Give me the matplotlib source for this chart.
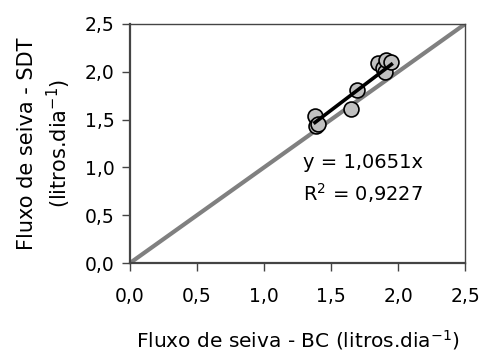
import matplotlib
matplotlib.use("Agg")
import matplotlib.pyplot as plt

# sap flow, BC method (x) vs SDT method (y), litros/dia
bc = [1.38, 1.39, 1.40, 1.65, 1.69, 1.85, 1.89, 1.90, 1.91, 1.95]
sdt = [1.54, 1.43, 1.45, 1.61, 1.81, 2.09, 2.04, 2.00, 2.12, 2.10]
slope = 1.0651
r2 = 0.9227
ticks = [0.0, 0.5, 1.0, 1.5, 2.0, 2.5]
tick_labels = ["0,0", "0,5", "1,0", "1,5", "2,0", "2,5"]

plt.rcParams["font.family"] = ["DejaVu Sans"]
plt.rcParams["mathtext.fontset"] = "dejavusans"

fig = plt.figure(figsize=(4.85, 3.51), dpi=100)
ax = fig.add_axes([0.268, 0.2507, 0.691, 0.681])

# 1:1 line
ax.plot([0, 2.5], [0, 2.5], color="#808080", lw=3, zorder=1)

ax.scatter(bc, sdt, s=115, facecolor="#c0c0c0", edgecolor="black",
           linewidth=1.2, zorder=3)

# regression through origin
x0, x1 = min(bc), max(bc)
ax.plot([x0, x1], [slope * x0, slope * x1], color="black", lw=2.6, zorder=4)

ax.text(1.29, 1.05, "y = 1,0651x", fontsize=14, ha="left", va="center")
ax.text(1.29, 0.73, f"R$^2$ = {r2:.4f}".replace(".", ","), fontsize=14,
        ha="left", va="center")

ax.set_xlim(0, 2.5)
ax.set_ylim(0, 2.5)
ax.set_xticks(ticks)
ax.set_xticklabels(tick_labels)
ax.set_yticks(ticks)
ax.set_yticklabels(tick_labels)
ax.tick_params(direction="out", length=6, width=1, labelsize=13.5,
               color="#444444")
ax.tick_params(axis="x", pad=11)
ax.tick_params(axis="y", pad=5)
for sp in ax.spines.values():
    sp.set_linewidth(1)
    sp.set_color("#444444")
ax.spines["left"].set_linewidth(1.6)
ax.spines["bottom"].set_linewidth(1.6)

ax.set_xlabel("Fluxo de seiva - BC (litros.dia$^{-1}$)", fontsize=14.5)
ax.xaxis.label.set_va("center")
ax.xaxis.set_label_coords(0.5, -0.322)

ax.set_ylabel("Fluxo de seiva - SDT\n(litros.dia$^{-1}$)", fontsize=15,
              linespacing=1.35)
ax.yaxis.label.set_va("center")
ax.yaxis.set_label_coords(-0.254, 0.5)

fig.savefig("out.png", dpi=100)
